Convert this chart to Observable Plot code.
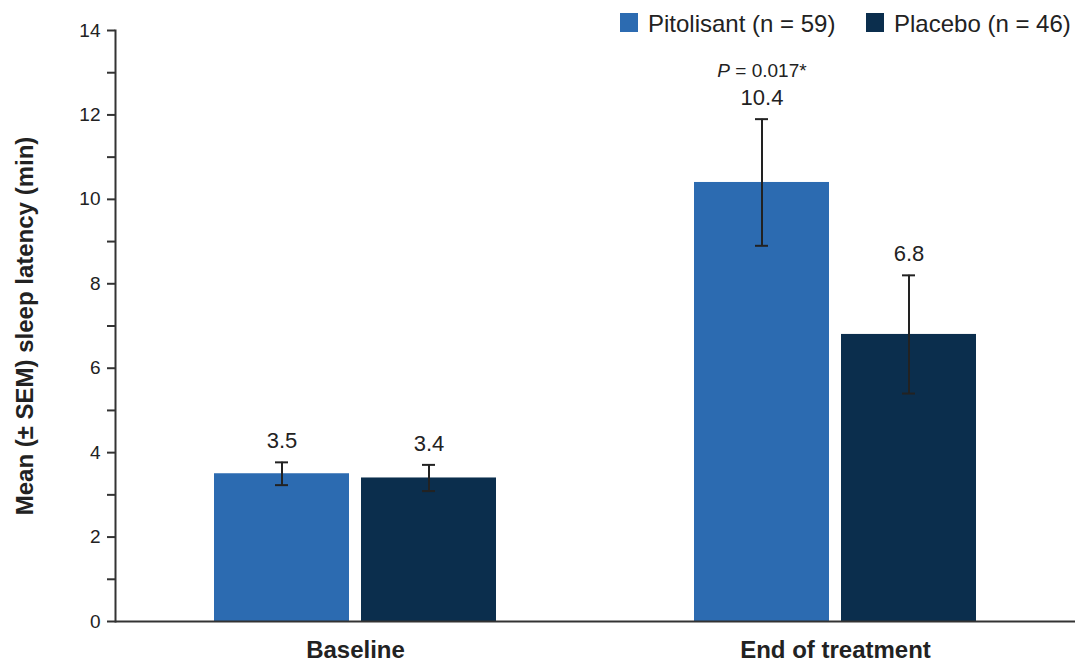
<!DOCTYPE html>
<html>
<head>
<meta charset="utf-8">
<script src="https://cdn.jsdelivr.net/npm/d3@7"></script>
<script src="https://cdn.jsdelivr.net/npm/@observablehq/plot@0.6"></script>
<style>
  body { margin: 0; background: #fff; font-family: "Liberation Sans", Arial, Helvetica, sans-serif; }
  #wrap { position: relative; width: 1077px; height: 663px; }
  #wrap svg { display: block; font-family: "Liberation Sans", Arial, Helvetica, sans-serif; }
  .legend { position: absolute; top: 0; left: 0; font-size: 24px; color: #222; }
  .legend .sw { position: absolute; top: 13px; width: 18px; height: 19px; }
  .legend .lb { position: absolute; top: 11px; line-height: 26px; white-space: nowrap; }
  g[aria-label="y-axis label"] text { font-size: 24px; font-weight: bold; }
</style>
</head>
<body>
<div id="wrap"></div>
<script>
// Time points (facets) and treatment groups (bars within each facet)
const timepoints = ["Baseline", "End of treatment"];
const groups = ["Pitolisant", "Placebo"];
const groupLabels = ["Pitolisant (n = 59)", "Placebo (n = 46)"];
const groupColors = ["#2c6bb1", "#0b2e4d"];

// Mean sleep latency (min) and SEM, in group order
const baselineMean = [3.5, 3.4];
const baselineSem = [0.27, 0.31];
const endMean = [10.4, 6.8];
const endSem = [1.5, 1.4];

// Significance annotation
const pTimepoint = ["End of treatment"];
const pGroup = ["Pitolisant"];
const pText = ["P = 0.017*"];

// Y-axis ticks (labels on even values only)
const yTicks = [0, 1, 2, 3, 4, 5, 6, 7, 8, 9, 10, 11, 12, 13, 14];

const rows = [];
groups.forEach((g, i) => {
  rows.push({timepoint: timepoints[0], group: g, mean: baselineMean[i], sem: baselineSem[i]});
  rows.push({timepoint: timepoints[1], group: g, mean: endMean[i], sem: endSem[i]});
});
rows.forEach(d => { d.lo = d.mean - d.sem; d.hi = d.mean + d.sem; });

const pRows = pTimepoint.map((t, i) => {
  const r = rows.find(d => d.timepoint === t && d.group === pGroup[i]);
  return {timepoint: t, group: pGroup[i], text: pText[i], y: r.hi};
});

const ink = "#222";

const chart = Plot.plot({
  width: 1077,
  height: 663,
  marginTop: 30,
  marginBottom: 42,
  marginLeft: 115,
  marginRight: 2,
  fx: {domain: timepoints, padding: 0},
  x: {domain: groups, paddingInner: 0.0816, paddingOuter: 0.667, axis: null},
  y: {domain: [0, 14]},
  color: {domain: groups, range: groupColors},
  marks: [
    Plot.barY(rows, {fx: "timepoint", x: "group", y: "mean", fill: "group"}),
    Plot.ruleY([0], {stroke: "#333", strokeWidth: 2}),
    Plot.frame({anchor: "left", facetAnchor: "left", stroke: "#333", strokeWidth: 2}),
    Plot.ruleX(rows, {fx: "timepoint", x: "group", y1: "lo", y2: "hi", stroke: ink, strokeWidth: 2}),
    Plot.tickY(rows, {fx: "timepoint", x: "group", y: "lo", insetLeft: 61, insetRight: 61, stroke: ink, strokeWidth: 2}),
    Plot.tickY(rows, {fx: "timepoint", x: "group", y: "hi", insetLeft: 61, insetRight: 61, stroke: ink, strokeWidth: 2}),
    Plot.text(rows, {fx: "timepoint", x: "group", y: "hi", text: d => d.mean.toFixed(1), dy: -21, fontSize: 22, fill: ink}),
    Plot.text(pRows, {fx: "timepoint", x: "group", y: "y", text: "text", dy: -48, fontSize: 19, fill: ink, className: "pval"}),
    Plot.axisY({
      ticks: yTicks,
      tickSize: 8,
      tickPadding: 7,
      tickFormat: d => (d % 2 === 0 ? String(d) : ""),
      fontSize: 19,
      stroke: "#333",
      strokeWidth: 2,
      color: ink,
      label: "Mean (± SEM) sleep latency (min)",
      labelAnchor: "center",
      labelArrow: "none",
      labelOffset: 100
    }),
    Plot.axisFx({
      anchor: "bottom",
      tickSize: 0,
      tickPadding: 19,
      fontSize: 24,
      fontWeight: "bold",
      color: ink,
      label: null
    })
  ]
});

// Italicise the "P" of the significance label
d3.select(chart).selectAll("text").each(function () {
  const t = this.textContent;
  if (pText.includes(t)) {
    const sel = d3.select(this);
    sel.text(null);
    sel.append("tspan").attr("font-style", "italic").text(t.slice(0, 1));
    sel.append("tspan").text(t.slice(1));
  }
});

const wrap = document.getElementById("wrap");
wrap.appendChild(chart);

// Legend in the top-right corner
const legend = document.createElement("div");
legend.className = "legend";
const swatchX = [620, 866];
groups.forEach((g, i) => {
  const sw = document.createElement("span");
  sw.className = "sw";
  sw.style.left = swatchX[i] + "px";
  sw.style.background = groupColors[i];
  const lb = document.createElement("span");
  lb.className = "lb";
  lb.style.left = (swatchX[i] + 28) + "px";
  lb.textContent = groupLabels[i];
  legend.appendChild(sw);
  legend.appendChild(lb);
});
wrap.appendChild(legend);
</script>
</body>
</html>
